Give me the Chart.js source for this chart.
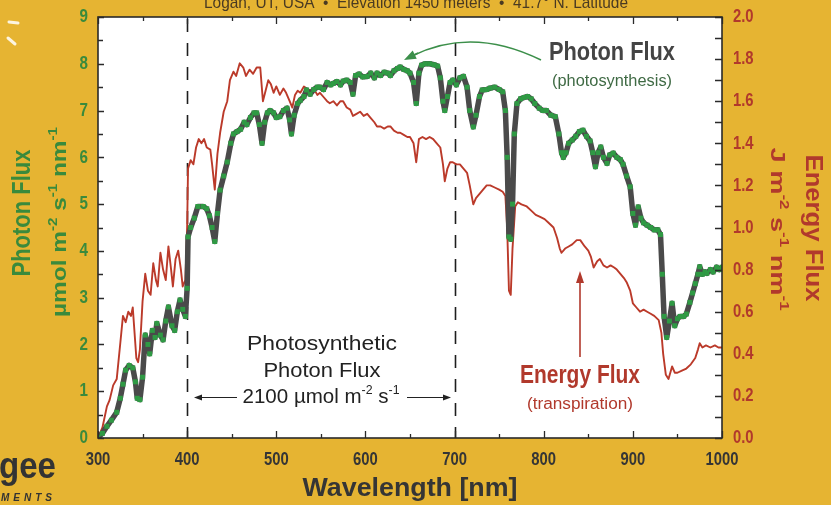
<!DOCTYPE html>
<html><head><meta charset="utf-8">
<script src="https://cdn.jsdelivr.net/npm/chart.js@4.4.1/dist/chart.umd.min.js"></script>
<style>html,body{margin:0;padding:0;background:#e6b432;}canvas{display:block}</style>
</head><body>
<canvas id="c" width="831" height="505"></canvas>
<script>
// ---- data ----
const photonWl = [
300,305,310,315,321,325,328,331,335,339,
342,344,347,350,353,356,358,361,364,366,
370,373,376,379,383,386,389,392,395,398,
400,401,404,408,412,418,422,425,428,431,
434,437,441,445,449,452,456,460,464,467,
471,475,478,481,484,487,490,493,497,500,
504,508,512,515,517,520,524,527,531,534,
538,542,546,549,553,557,561,564,568,572,
575,579,583,586,589,593,597,602,606,610,
613,617,621,625,628,632,636,639,643,647,
650,654,657,660,663,667,672,677,681,684,
687,689,692,695,698,702,706,710,714,717,
721,724,728,731,736,740,745,750,754,757,
759,761,763,765,767,770,774,778,782,786,
790,795,799,803,808,813,817,820,822,825,
828,832,836,840,844,848,852,855,858,861,
864,867,871,874,878,882,886,889,893,897,
900,903,906,909,912,916,920,924,928,931,
933,935,938,941,944,947,950,953,957,960,
964,967,970,973,975,978,981,983,987,990,
994,997,1000];
const photonFlux = [
0.02,0.1,0.25,0.38,0.55,0.85,1.15,1.45,1.55,1.5,
1.2,0.85,0.82,1.3,2.2,2.0,1.8,2.3,2.15,2.45,
2.2,2.1,2.5,2.8,2.4,2.3,2.7,2.95,2.75,2.6,
3.2,4.3,4.5,4.7,4.95,4.95,4.9,4.75,4.5,4.2,
4.8,5.3,5.6,5.9,6.3,6.5,6.55,6.6,6.75,6.7,
6.85,6.95,6.95,6.7,6.3,6.75,6.95,7.0,6.95,6.85,
6.87,7.0,7.05,6.8,6.5,6.9,7.15,7.22,7.3,7.44,
7.35,7.45,7.5,7.5,7.45,7.6,7.55,7.58,7.62,7.55,
7.63,7.65,7.6,7.35,7.75,7.78,7.72,7.73,7.8,7.7,
7.8,7.75,7.82,7.8,7.75,7.85,7.9,7.93,7.88,7.85,
7.8,7.6,7.15,7.8,7.97,8.0,8.0,7.98,7.95,7.7,
7.2,7.0,7.3,7.6,7.65,7.55,7.7,7.73,7.5,7.0,
6.65,6.9,7.3,7.44,7.45,7.48,7.5,7.45,7.4,7.0,
6.0,4.3,4.25,5.0,6.5,7.15,7.25,7.28,7.3,7.25,
7.15,7.05,7.0,7.0,6.9,6.87,6.5,6.1,6.0,6.1,
6.3,6.37,6.45,6.55,6.58,6.45,6.35,6.1,5.8,6.1,
6.22,6.0,5.87,6.05,6.09,6.0,5.95,5.85,5.6,5.37,
4.8,4.55,4.94,4.7,4.6,4.55,4.5,4.45,4.45,4.35,
3.5,2.6,2.15,2.5,2.88,2.4,2.55,2.6,2.6,2.65,
2.9,3.1,3.3,3.5,3.66,3.5,3.55,3.52,3.6,3.55,
3.65,3.6,3.65];
const energyWl = [
300,305,310,313,317,321,325,328,331,334,
337,339,341,343,345,347,350,353,356,359,
362,365,367,370,373,376,379,382,384,387,
390,393,395,398,400,401,404,407,410,413,
416,419,422,426,428,431,434,437,441,445,
448,452,455,459,463,466,470,474,478,482,
485,488,491,494,497,500,504,508,511,515,
518,521,524,527,531,534,538,542,546,549,
553,557,560,564,568,572,575,579,583,586,
590,594,598,602,606,610,613,617,621,625,
628,632,636,639,643,647,650,654,657,660,
664,668,672,676,680,684,687,689,692,695,
698,702,706,710,714,717,721,724,728,732,
736,740,745,750,754,757,759,761,763,765,
768,771,775,781,786,791,796,801,806,811,
815,818,820,824,828,832,837,841,846,850,
853,856,860,863,867,871,875,879,882,886,
890,893,897,900,904,908,912,916,920,924,
929,932,934,937,940,944,947,950,955,960,
965,970,973,975,978,982,987,992,996,1000];
const energyFlux = [
0.0,0.05,0.15,0.18,0.25,0.28,0.45,0.58,0.55,0.6,
0.58,0.62,0.5,0.38,0.36,0.42,0.65,0.78,0.7,0.68,
0.83,0.75,0.72,0.88,0.8,0.75,0.91,0.8,0.72,0.85,
0.89,0.8,0.72,0.75,1.0,1.28,1.32,1.3,1.38,1.42,
1.4,1.42,1.38,1.37,1.3,1.18,1.35,1.45,1.55,1.6,
1.7,1.74,1.72,1.78,1.76,1.72,1.75,1.73,1.76,1.76,
1.6,1.65,1.7,1.68,1.64,1.67,1.63,1.66,1.64,1.6,
1.57,1.63,1.65,1.64,1.67,1.66,1.65,1.66,1.63,1.64,
1.62,1.6,1.59,1.6,1.58,1.6,1.6,1.57,1.56,1.53,
1.54,1.55,1.53,1.54,1.52,1.5,1.48,1.48,1.47,1.48,
1.48,1.46,1.45,1.45,1.44,1.43,1.43,1.4,1.31,1.42,
1.43,1.42,1.43,1.42,1.4,1.38,1.3,1.22,1.28,1.31,
1.31,1.3,1.3,1.28,1.26,1.2,1.11,1.14,1.16,1.18,
1.2,1.2,1.19,1.18,1.17,1.15,1.0,0.7,0.68,0.9,
1.1,1.12,1.11,1.1,1.08,1.06,1.05,1.04,1.02,1.0,
0.95,0.9,0.88,0.9,0.91,0.92,0.94,0.94,0.91,0.89,
0.86,0.81,0.84,0.85,0.82,0.81,0.82,0.81,0.8,0.78,
0.76,0.74,0.7,0.64,0.62,0.6,0.61,0.6,0.59,0.58,
0.56,0.5,0.4,0.3,0.28,0.34,0.31,0.31,0.32,0.33,
0.35,0.38,0.42,0.45,0.43,0.44,0.43,0.44,0.43,0.43];
const xTickLabels = [300,400,500,600,700,800,900,1000];
const leftTickLabels = [0,1,2,3,4,5,6,7,8,9];
const rightTickLabels = ['0.0','0.2','0.4','0.6','0.8','1.0','1.2','1.4','1.6','1.8','2.0'];
const parBounds = [400,700];

// ---- styles ----
const BG = '#e6b432', GREEN = '#3a8a3c', RED = '#b1392c', DARK = '#353535';
const FF = '"Liberation Sans", Arial, sans-serif';

function txt(ctx, s, x, y, o) {
  ctx.save();
  ctx.translate(x, y);
  if (o.rot) ctx.rotate(o.rot * Math.PI / 180);
  ctx.font = (o.style || '') + ' ' + (o.weight || 'normal') + ' ' + o.size + 'px ' + FF;
  const w = ctx.measureText(s).width;
  const sx = o.width ? o.width / w : (o.sx || 1);
  ctx.scale(sx, 1);
  ctx.fillStyle = o.color;
  ctx.textAlign = o.align || 'center';
  ctx.textBaseline = o.baseline || 'middle';
  ctx.fillText(s, 0, 0);
  ctx.restore();
}
function rich(ctx, segs, x, y, o) {
  ctx.save();
  ctx.translate(x, y);
  if (o.rot) ctx.rotate(o.rot * Math.PI / 180);
  const big = (o.weight || 'normal') + ' ' + o.size + 'px ' + FF;
  const small = (o.weight || 'normal') + ' ' + Math.round(o.size * 0.62) + 'px ' + FF;
  let tot = 0;
  const ws = segs.map(sg => { ctx.font = sg.sup ? small : big; const w = ctx.measureText(sg.t).width; tot += w; return w; });
  const sx = o.width ? o.width / tot : 1;
  ctx.scale(sx, 1);
  ctx.fillStyle = o.color;
  ctx.textBaseline = 'middle';
  ctx.textAlign = 'left';
  let cx = -tot / 2;
  segs.forEach((sg, i) => {
    ctx.font = sg.sup ? small : big;
    ctx.fillText(sg.t, cx, sg.sup ? -o.size * 0.32 : 0);
    cx += ws[i];
  });
  ctx.restore();
}
function arrow(ctx, x1, y1, x2, y2, color, lw, hl, hw) {
  ctx.save();
  ctx.strokeStyle = color; ctx.fillStyle = color; ctx.lineWidth = lw;
  const a = Math.atan2(y2 - y1, x2 - x1);
  ctx.beginPath(); ctx.moveTo(x1, y1);
  ctx.lineTo(x2 - Math.cos(a) * hl * 0.8, y2 - Math.sin(a) * hl * 0.8); ctx.stroke();
  ctx.beginPath();
  ctx.moveTo(x2, y2);
  ctx.lineTo(x2 - Math.cos(a) * hl + Math.sin(a) * hw, y2 - Math.sin(a) * hl - Math.cos(a) * hw);
  ctx.lineTo(x2 - Math.cos(a) * hl - Math.sin(a) * hw, y2 - Math.sin(a) * hl + Math.cos(a) * hw);
  ctx.closePath(); ctx.fill();
  ctx.restore();
}

const deco = {
  id: 'deco',
  beforeDraw(chart) {
    const { ctx, chartArea: a } = chart;
    ctx.save();
    ctx.fillStyle = BG; ctx.fillRect(0, 0, chart.width, chart.height);
    ctx.fillStyle = '#ffffff'; ctx.fillRect(a.left, a.top, a.right - a.left, a.bottom - a.top);
    ctx.restore();
  },
  beforeDatasetsDraw(chart) {
    const { ctx, chartArea: a, scales } = chart;
    ctx.save();
    ctx.strokeStyle = '#1e1e1e'; ctx.lineWidth = 1.6; ctx.setLineDash([13, 11]);
    parBounds.forEach(v => {
      const px = Math.round(scales.x.getPixelForValue(v)) + 0.5;
      ctx.beginPath(); ctx.moveTo(px, a.top + 2); ctx.lineTo(px, a.bottom); ctx.stroke();
    });
    ctx.restore();
  },
  afterDraw(chart) {
    const { ctx, chartArea: a, scales } = chart;
    const X = scales.x, Y = scales.y, Y1 = scales.y1;
    ctx.save();
    // frame
    ctx.strokeStyle = '#2a2a2a'; ctx.lineWidth = 1.6;
    ctx.strokeRect(a.left, a.top, a.right - a.left, a.bottom - a.top);
    // ticks
    ctx.lineWidth = 1.3;
    ctx.beginPath();
    for (let v = 300; v <= 1000; v += 50) {
      const px = Math.round(X.getPixelForValue(v)) + 0.5;
      const L = v % 100 === 0 ? 7 : 4;
      ctx.moveTo(px, a.bottom); ctx.lineTo(px, a.bottom - L);
      ctx.moveTo(px, a.top); ctx.lineTo(px, a.top + L);
    }
    for (let v = 0; v <= 9; v += 0.5) {
      const py = Math.round(Y.getPixelForValue(v)) + 0.5;
      const L = Number.isInteger(v) ? 6 : 5;
      ctx.moveTo(a.left, py); ctx.lineTo(a.left + L, py);
    }
    for (let i = 0; i <= 20; i++) {
      const py = Math.round(Y1.getPixelForValue(i / 10)) + 0.5;
      ctx.moveTo(a.right, py); ctx.lineTo(a.right - 7, py);
    }
    ctx.stroke();
    ctx.restore();

    // tick labels
    leftTickLabels.forEach(v => txt(ctx, String(v), 88, Y.getPixelForValue(v), { size: 19, weight: 'bold', color: GREEN, align: 'right', sx: 0.8 }));
    rightTickLabels.forEach(s => txt(ctx, s, 733, Y1.getPixelForValue(parseFloat(s)), { size: 19, weight: 'bold', color: RED, align: 'left', sx: 0.78 }));
    xTickLabels.forEach(v => txt(ctx, String(v), X.getPixelForValue(v), 460, { size: 19, weight: 'bold', color: DARK, sx: 0.78 }));

    // axis titles
    txt(ctx, 'Wavelength [nm]', 410, 489, { size: 25, weight: 'bold', color: DARK, width: 215 });
    txt(ctx, 'Photon Flux', 23, 213, { size: 25, weight: 'bold', color: GREEN, rot: -90, width: 127 });
    rich(ctx, [{ t: 'µmol m' }, { t: '-2', sup: true }, { t: ' s' }, { t: '-1', sup: true }, { t: ' nm' }, { t: '-1', sup: true }],
      60, 222, { size: 21, weight: 'bold', color: GREEN, rot: -90, width: 190 });
    rich(ctx, [{ t: 'J m' }, { t: '-2', sup: true }, { t: ' s' }, { t: '-1', sup: true }, { t: ' nm' }, { t: '-1', sup: true }],
      777, 229, { size: 21, weight: 'bold', color: RED, rot: 90, width: 163 });
    txt(ctx, 'Energy Flux', 813, 228, { size: 24, weight: 'bold', color: RED, rot: 90, width: 147 });

    // header
    txt(ctx, 'Logan, UT, USA  \u2022  Elevation 1450 meters  \u2022  41.7\u00B0 N. Latitude', 416, 8,
      { size: 17, color: '#4a3a22', baseline: 'alphabetic', width: 424 });

    // annotations
    txt(ctx, 'Photon Flux', 612, 53, { size: 26, weight: 'bold', color: '#444444', width: 126 });
    txt(ctx, '(photosynthesis)', 612, 82, { size: 16, color: '#3f6a44', width: 120 });
    txt(ctx, 'Energy Flux', 580, 376, { size: 26, weight: 'bold', color: RED, width: 120 });
    txt(ctx, '(transpiration)', 580, 405, { size: 16, color: RED, width: 106 });
    txt(ctx, 'Photosynthetic', 322, 344, { size: 21, color: '#222222', width: 150 });
    txt(ctx, 'Photon Flux', 322, 371, { size: 21, color: '#222222', width: 117 });
    rich(ctx, [{ t: '2100 µmol m' }, { t: '-2', sup: true }, { t: ' s' }, { t: '-1', sup: true }],
      321, 397, { size: 20, color: '#222222', width: 157 });
    arrow(ctx, 237, 397.5, 194, 397.5, '#222222', 1.2, 8, 3);
    arrow(ctx, 407, 397.5, 451, 397.5, '#222222', 1.2, 8, 3);
    arrow(ctx, 580, 357, 580, 271, RED, 1.6, 12, 4);

    // curved green arrow
    ctx.save();
    ctx.strokeStyle = '#3c8f4a'; ctx.fillStyle = '#3c8f4a'; ctx.lineWidth = 1.6;
    ctx.beginPath(); ctx.moveTo(541, 60); ctx.quadraticCurveTo(472, 26, 412, 56); ctx.stroke();
    ctx.restore();
    arrow(ctx, 418, 53, 404, 60, '#3c8f4a', 1.6, 12, 4.5);

    // logo fragment
    txt(ctx, 'gee', 56, 468, { size: 36, weight: 'bold', color: '#333333', align: 'right', width: 57 });
    ctx.save();
    ctx.font = 'italic bold 10px ' + FF; ctx.fillStyle = '#333333';
    ctx.letterSpacing = '4px'; ctx.textAlign = 'right'; ctx.textBaseline = 'middle';
    ctx.fillText('MENTS', 56, 498);
    ctx.restore();
    // white sun-ray marks
    ctx.save();
    ctx.strokeStyle = 'rgba(255,255,255,0.85)'; ctx.lineWidth = 3; ctx.lineCap = 'round';
    ctx.beginPath(); ctx.moveTo(9, 22); ctx.lineTo(18, 23); ctx.moveTo(8, 38); ctx.lineTo(15, 44); ctx.stroke();
    ctx.restore();
  }
};

new Chart(document.getElementById('c'), {
  type: 'line',
  data: {
    datasets: [
      {
        label: 'Photon Flux',
        data: photonWl.map((w, i) => ({ x: w, y: photonFlux[i] })),
        yAxisID: 'y',
        borderColor: '#4a4a4a', borderWidth: 5.5,
        borderJoinStyle: 'round', borderCapStyle: 'round',
        pointStyle: 'rect', pointRadius: 3.5, pointBorderWidth: 0,
        pointBackgroundColor: '#2f9a44', tension: 0
      },
      {
        label: 'Energy Flux',
        data: energyWl.map((w, i) => ({ x: w, y: energyFlux[i] })),
        yAxisID: 'y1',
        borderColor: '#bb3a2a', borderWidth: 1.9,
        borderJoinStyle: 'round', pointRadius: 0, tension: 0
      }
    ]
  },
  options: {
    responsive: false, animation: false,
    layout: { padding: { top: 17, left: 0, right: 0, bottom: 0 } },
    plugins: { legend: { display: false }, tooltip: { enabled: false }, title: { display: false } },
    scales: {
      x: {
        type: 'linear', min: 300, max: 1000,
        grid: { display: false }, border: { display: false },
        ticks: { display: false, stepSize: 100 },
        afterFit: s => { s.height = 67; }
      },
      y: {
        position: 'left', min: 0, max: 9,
        grid: { display: false }, border: { display: false },
        ticks: { display: false, stepSize: 1 },
        afterFit: s => { s.width = 98; }
      },
      y1: {
        position: 'right', min: 0, max: 2,
        grid: { display: false }, border: { display: false },
        ticks: { display: false, stepSize: 0.2 },
        afterFit: s => { s.width = 109; }
      }
    }
  },
  plugins: [deco]
});
</script>
</body></html>
